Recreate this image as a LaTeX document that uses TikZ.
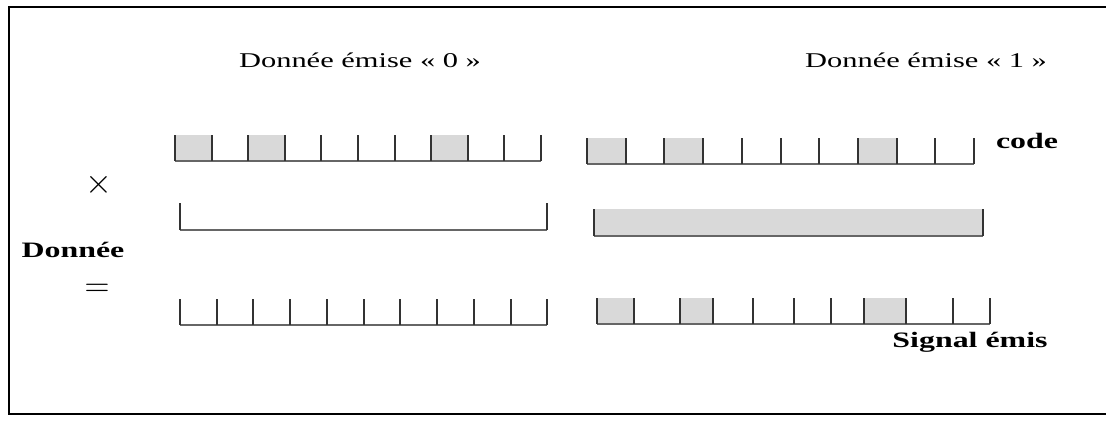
\documentclass[tikz,border=0pt]{standalone}
\usepackage{fontspec}
\setmainfont{Liberation Serif}[FakeStretch=1.45]
\begin{document}
\begin{tikzpicture}[x=0.5pt,y=-0.5pt,
  tick/.style={line width=1pt, black!80},
  base/.style={line width=0.6pt, black!60},
  cell/.style={fill=black!15},
  lbl/.style={font=\fontsize{10.5}{12}\selectfont},
  blbl/.style={font=\fontsize{11}{13}\selectfont\bfseries},
  op/.style={font=\fontsize{17}{19}\selectfont}]
  \useasboundingbox (0,0) rectangle (1106,433);
  % frame, open on the right
  \draw[line width=1pt] (1106,7) -- (9,7) -- (9,414) -- (1106,414);

  % code, data 0
  \foreach \i in {0,2,7} \fill[cell] ({175+36.6*\i},135) rectangle ++(36.6,26);
  \draw[base] (175,161) -- (541,161);
  \foreach \i in {0,...,10} \draw[tick] ({175+36.6*\i},135) -- ++(0,26);
  % code, data 1
  \foreach \i in {0,2,7} \fill[cell] ({587+38.7*\i},138) rectangle ++(38.7,26);
  \draw[base] (587,164) -- (974,164);
  \foreach \i in {0,...,10} \draw[tick] ({587+38.7*\i},138) -- ++(0,26);

  % data bits
  \draw[base] (180,230) -- (547,230);
  \draw[tick] (180,203) -- ++(0,27);
  \draw[tick] (547,203) -- ++(0,27);
  \fill[cell] (594,209) rectangle (983,236);
  \draw[base] (594,236) -- (983,236);
  \draw[tick] (594,209) -- ++(0,27);
  \draw[tick] (983,209) -- ++(0,27);

  % sent signal
  \draw[base] (180,325) -- (547,325);
  \foreach \i in {0,...,10} \draw[tick] ({180+36.73*\i},299) -- ++(0,26);
  \fill[cell] (597,298) rectangle (634,324);
  \fill[cell] (680,298) rectangle (713,324);
  \fill[cell] (864,298) rectangle (906,324);
  \draw[base] (597,324) -- (990,324);
  \foreach \x in {597,634,680,713,753,794,831,864,906,953,990}
    \draw[tick] (\x,298) -- ++(0,26);

  % labels
  \node[lbl] (d0) at (360,60) {Donnée émise « 0 »};
  \node[lbl] (d1) at (926,60) {Donnée émise « 1 »};
  \node[blbl] (code) at (1027,141) {code};
  \node[blbl] (sig) at (970,342) {Signal émis};
  \node[blbl] (don) at (73,250) {Donnée};
  \node[op] (mul) at (99,185) {$\times$};
  \node[op] (eq) at (97,290) {$=$};
\end{tikzpicture}
\end{document}
